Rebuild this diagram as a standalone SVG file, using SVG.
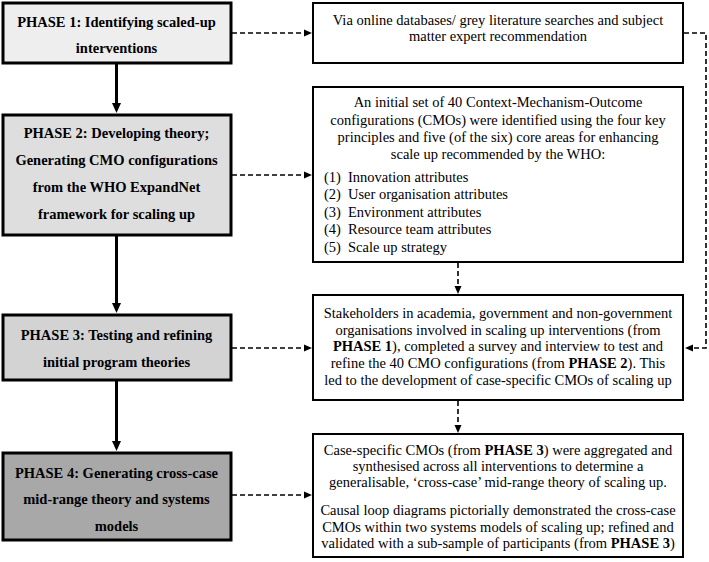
<svg xmlns="http://www.w3.org/2000/svg" width="709" height="562" viewBox="0 0 709 562">
<style>
text{font-family:"Liberation Serif","Times New Roman",serif;font-size:14.5px;fill:#000}
.ph{font-weight:bold;text-anchor:middle}
.c{text-anchor:middle}
.b{font-weight:bold}
.pbox{stroke:#000;stroke-width:3}
.rbox{fill:#fff;stroke:#000;stroke-width:2}
.solid{stroke:#000;stroke-width:3;fill:none}
.dash{stroke:#000;stroke-width:1.6;fill:none;stroke-dasharray:5 3}
</style>
<defs>
<marker id="big" markerWidth="10" markerHeight="10" refX="2" refY="5" orient="auto" markerUnits="userSpaceOnUse"><path d="M0,0.5 L10,5 L0,9.5 z" fill="#000"/></marker>
<marker id="sm" markerWidth="8" markerHeight="8" refX="1" refY="4" orient="auto" markerUnits="userSpaceOnUse"><path d="M0,0.5 L8,4 L0,7.5 z" fill="#000"/></marker>
</defs>
<rect width="709" height="562" fill="#fff"/>
<g id="connectors">
<line class="solid" x1="116.5" y1="64" x2="116.5" y2="105" marker-end="url(#big)"/>
<line class="solid" x1="116.5" y1="236" x2="116.5" y2="305" marker-end="url(#big)"/>
<line class="solid" x1="116.5" y1="381" x2="116.5" y2="443" marker-end="url(#big)"/>
<line class="dash" x1="232" y1="33" x2="305" y2="33" marker-end="url(#sm)"/>
<line class="dash" x1="232" y1="175" x2="305" y2="175" marker-end="url(#sm)"/>
<line class="dash" x1="232" y1="348" x2="305" y2="348" marker-end="url(#sm)"/>
<line class="dash" x1="232" y1="495" x2="305" y2="495" marker-end="url(#sm)"/>
<line class="dash" x1="458" y1="263" x2="458" y2="287" marker-end="url(#sm)"/>
<line class="dash" x1="458" y1="401" x2="458" y2="426" marker-end="url(#sm)"/>
<polyline class="dash" points="684,33 706,33 706,348 692,348" marker-end="url(#sm)"/>
</g>
<g id="phase1">
<rect class="pbox" x="3" y="3" width="228" height="60" fill="#eeeeee"/>
<text class="ph" x="116.5" y="27">PHASE 1: Identifying scaled-up</text>
<text class="ph" x="116.5" y="53">interventions</text>
</g>
<g id="phase2">
<rect class="pbox" x="3" y="115" width="228" height="120" fill="#dedede"/>
<text class="ph" x="116.5" y="138">PHASE 2: Developing theory;</text>
<text class="ph" x="116.5" y="165">Generating CMO configurations</text>
<text class="ph" x="116.5" y="192">from the WHO ExpandNet</text>
<text class="ph" x="116.5" y="219">framework for scaling up</text>
</g>
<g id="phase3">
<rect class="pbox" x="3" y="315" width="228" height="65" fill="#d3d3d3"/>
<text class="ph" x="116.5" y="340">PHASE 3: Testing and refining</text>
<text class="ph" x="116.5" y="367">initial program theories</text>
</g>
<g id="phase4">
<rect class="pbox" x="3" y="453" width="228" height="87" fill="#a8a8a8"/>
<text class="ph" x="116.5" y="478">PHASE 4: Generating cross-case</text>
<text class="ph" x="116.5" y="504">mid-range theory and systems</text>
<text class="ph" x="116.5" y="531">models</text>
</g>
<g id="box1">
<rect class="rbox" x="313" y="3" width="370" height="60"/>
<text class="c" x="498" y="25">Via online databases/ grey literature searches and subject</text>
<text class="c" x="498" y="41">matter expert recommendation</text>
</g>
<g id="box2">
<rect class="rbox" x="313" y="87" width="370" height="175"/>
<text class="c" x="498" y="107">An initial set of 40 Context-Mechanism-Outcome</text>
<text class="c" x="498" y="124.5">configurations (CMOs) were identified using the four key</text>
<text class="c" x="498" y="141.5">principles and five (of the six) core areas for enhancing</text>
<text class="c" x="498" y="159">scale up recommended by the WHO:</text>
<text x="324" y="181.5">(1)</text><text x="348" y="181.5">Innovation attributes</text>
<text x="324" y="199">(2)</text><text x="348" y="199">User organisation attributes</text>
<text x="324" y="216.5">(3)</text><text x="348" y="216.5">Environment attributes</text>
<text x="324" y="234">(4)</text><text x="348" y="234">Resource team attributes</text>
<text x="324" y="251.5">(5)</text><text x="348" y="251.5">Scale up strategy</text>
</g>
<g id="box3">
<rect class="rbox" x="313" y="295" width="370" height="105"/>
<text class="c" x="498" y="317.5">Stakeholders in academia, government and non-government</text>
<text class="c" x="498" y="334.5">organisations involved in scaling up interventions (from</text>
<text class="c" x="498" y="351"><tspan class="b">PHASE 1</tspan>), completed a survey and interview to test and</text>
<text class="c" x="498" y="368">refine the 40 CMO configurations (from <tspan class="b">PHASE 2</tspan>). This</text>
<text class="c" x="498" y="384.5">led to the development of case-specific CMOs of scaling up</text>
</g>
<g id="box4">
<rect class="rbox" x="313" y="434" width="370" height="123"/>
<text class="c" x="498" y="454.5">Case-specific CMOs (from <tspan class="b">PHASE 3</tspan>) were aggregated and</text>
<text class="c" x="498" y="470.5">synthesised across all interventions to determine a</text>
<text class="c" x="498" y="486.5">generalisable, ‘cross-case’ mid-range theory of scaling up.</text>
<text class="c" x="498" y="515">Causal loop diagrams pictorially demonstrated the cross-case</text>
<text class="c" x="498" y="531.5">CMOs within two systems models of scaling up; refined and</text>
<text class="c" x="498" y="548">validated with a sub-sample of participants (from <tspan class="b">PHASE 3</tspan>)</text>
</g>
</svg>
